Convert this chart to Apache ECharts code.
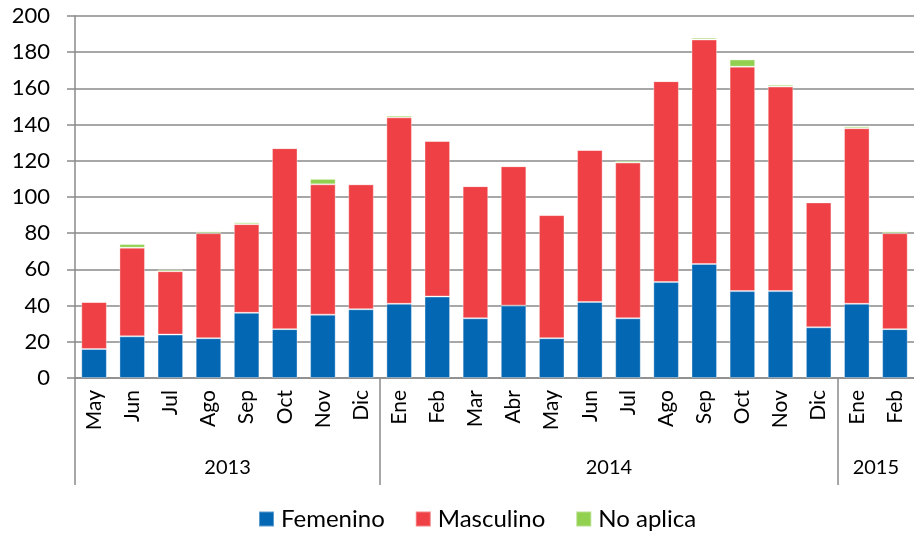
<!DOCTYPE html>
<html>
<head>
<meta charset="utf-8">
<title>Femenino / Masculino / No aplica</title>
<script src="https://cdn.jsdelivr.net/npm/echarts@6/dist/echarts.min.js"></script>
<style>
  html, body { margin: 0; padding: 0; background: #fff; }
  #chart { width: 914px; height: 535px; }
</style>
</head>
<body>
<div id="chart"></div>
<script>
// meses (eje x) y años
var meses = ['May', 'Jun', 'Jul', 'Ago', 'Sep', 'Oct', 'Nov', 'Dic',
  'Ene', 'Feb', 'Mar', 'Abr', 'May', 'Jun', 'Jul', 'Ago', 'Sep', 'Oct', 'Nov', 'Dic',
  'Ene', 'Feb']
var anios = ['2013', '2014', '2015']
var inicioAnio = [0, 8, 20]
var centroAnio = [4, 14, 21]

// valores
var femenino = [16, 23, 24, 22, 36, 27, 35, 38, 41, 45, 33, 40, 22, 42, 33, 53, 63, 48, 48, 28, 41, 27]
var masculino = [26, 49, 35, 58, 49, 100, 72, 69, 103, 86, 73, 77, 68, 84, 86, 111, 124, 124, 113, 69, 97, 53]
var noAplica = [0, 2, 1, 1, 1, 0, 3, 0, 1, 0, 0, 0, 0, 0, 1, 0, 1, 4, 1, 0, 1, 1]

var fuente = 'Lato, "Open Sans", sans-serif'
var gris = '#8a8a8a'

var chart = echarts.init(document.getElementById('chart'))

function serie(nombre, datos, color) {
  return {
    name: nombre,
    type: 'bar',
    stack: 'total',
    barCategoryGap: '33%',
    data: datos,
    itemStyle: {
      color: color,
      borderColor: 'rgba(255,255,255,0.35)',
      borderWidth: 1
    }
  }
}

var option = {
  animation: false,
  textStyle: { fontFamily: fuente },
  grid: {
    left: 75,
    top: 16,
    width: 851,
    height: 362,
    containLabel: false
  },
  legend: {
    left: 258,
    top: 507,
    padding: 0,
    itemWidth: 15,
    itemHeight: 15,
    itemGap: 30,
    icon: 'rect',
    textStyle: { fontSize: 24, color: '#000', fontFamily: fuente, padding: [0, 0, 0, 2] },
    data: ['Femenino', 'Masculino', 'No aplica']
  },
  xAxis: [
    {
      type: 'category',
      data: meses,
      position: 'bottom',
      axisLine: { lineStyle: { color: gris, width: 1.5 } },
      axisTick: { length: 60, lineStyle: { color: gris, width: 1.5 } },
      axisLabel: {
        rotate: 90,
        margin: 12,
        fontSize: 21,
        color: '#000',
        fontFamily: fuente,
        interval: 0
      }
    },
    {
      // eje de años
      type: 'value',
      min: 0,
      max: 22,
      position: 'bottom',
      splitLine: { show: false },
      axisLine: { show: false },
      axisTick: {
        show: true,
        length: 107,
        customValues: inicioAnio,
        lineStyle: { color: gris, width: 1.5 }
      },
      axisLabel: {
        customValues: centroAnio,
        margin: 80,
        fontSize: 20,
        color: '#000',
        fontFamily: fuente,
        formatter: function (v) {
          return anios[centroAnio.indexOf(v)]
        }
      }
    }
  ],
  yAxis: {
    type: 'value',
    min: 0,
    max: 200,
    interval: 20,
    axisLine: { show: true, lineStyle: { color: gris, width: 1.5 } },
    axisTick: { show: true, length: 8, lineStyle: { color: gris, width: 1.5 } },
    splitLine: { lineStyle: { color: gris, width: 1.5 } },
    axisLabel: { margin: 25, fontSize: 22, color: '#000', fontFamily: fuente }
  },
  series: [
    serie('Femenino', femenino, '#0467b4'),
    serie('Masculino', masculino, '#ef4145'),
    serie('No aplica', noAplica, '#92d050')
  ]
}

chart.setOption(option)
</script>
</body>
</html>
